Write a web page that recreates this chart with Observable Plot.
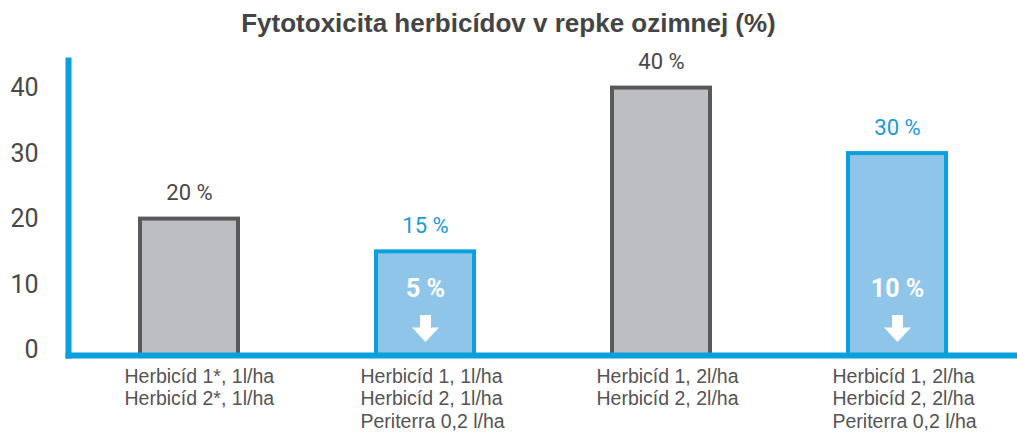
<!DOCTYPE html>
<html>
<head>
<meta charset="utf-8">
<script src="https://cdn.jsdelivr.net/npm/d3@7"></script>
<script src="https://cdn.jsdelivr.net/npm/@observablehq/plot@0.6"></script>
<style>
  html, body { margin: 0; padding: 0; background: #fff; }
  #title { height: 44px; box-sizing: border-box; padding-top: 10px; text-align: center;
           font: bold 26px "Liberation Sans", Arial, sans-serif; line-height: 1; color: #444446; }
  #chart svg { display: block; }
</style>
</head>
<body>
<div id="title">Fytotoxicita herbicídov v repke ozimnej (%)</div>
<div id="chart"></div>
<script>
// ---- data ----
const categories = [
  "Herbicíd 1*, 1l/ha\nHerbicíd 2*, 1l/ha",
  "Herbicíd 1, 1l/ha\nHerbicíd 2, 1l/ha\nPeriterra 0,2 l/ha",
  "Herbicíd 1, 2l/ha\nHerbicíd 2, 2l/ha",
  "Herbicíd 1, 2l/ha\nHerbicíd 2, 2l/ha\nPeriterra 0,2 l/ha"
];
const values = [20, 15, 40, 30];
const reductions = [null, 5, null, 10];
const withPeriterra = [false, true, false, true];
const yTicks = [0, 10, 20, 30, 40];

const data = categories.map((c, i) => ({
  label: c, value: values[i], reduction: reductions[i], periterra: withPeriterra[i]
}));

const BLUE = "#0aa0dc", BLUE_FILL = "#90c5ea", GRAY_FILL = "#bdbec1", GRAY_STROKE = "#58595b";
const TEXT = "#48484a", BLUE_TEXT = "#1a9bd7";

const arrowDown = {
  draw(ctx, size) {
    const r = Math.sqrt(size / Math.PI);
    const sw = 0.41 * r, neck = -0.08 * r;
    ctx.moveTo(-sw, -r); ctx.lineTo(sw, -r); ctx.lineTo(sw, neck); ctx.lineTo(r, neck);
    ctx.lineTo(0, r); ctx.lineTo(-r, neck); ctx.lineTo(-sw, neck); ctx.closePath();
  }
};

const chart = Plot.plot({
  width: 1017,
  height: 388,
  marginLeft: 68,
  marginRight: 0,
  marginTop: 16,
  marginBottom: 77,
  style: { fontFamily: "Roboto, sans-serif", background: "#fff" },
  x: { type: "band", domain: categories, range: [68, 1017], paddingInner: 0.585, paddingOuter: 0.302, axis: null },
  y: { domain: [0, 40], range: [305.6, 43.6], axis: null, label: null },
  marks: [
    Plot.barY(data, {
      x: "label", y: "value",
      fill: d => d.periterra ? BLUE_FILL : GRAY_FILL,
      stroke: d => d.periterra ? BLUE : GRAY_STROKE,
      strokeWidth: 4, insetBottom: -6
    }),
    Plot.axisY({ ticks: yTicks, tickSize: 0, tickPadding: 30, fontSize: 25, fill: TEXT, label: null, tickFormat: d => d }),
    Plot.frame({ anchor: "left", stroke: BLUE, strokeWidth: 6 }),
    Plot.frame({ anchor: "bottom", stroke: BLUE, strokeWidth: 6 }),
    Plot.text(data, {
      x: "label", y: "value", text: d => `${d.value} %`,
      fill: d => d.periterra ? BLUE_TEXT : TEXT,
      fontSize: 22, lineAnchor: "middle", dy: -26
    }),
    Plot.text(data.filter(d => d.reduction != null), {
      x: "label", text: d => `${d.reduction} %`, frameAnchor: "bottom",
      fill: "white", fontSize: 25, fontWeight: "bold", lineAnchor: "middle", dy: -67
    }),
    Plot.dot(data.filter(d => d.reduction != null), {
      x: "label", frameAnchor: "bottom", dy: -27, r: 13.5,
      symbol: arrowDown, fill: "white", stroke: "none"
    }),
    Plot.text(data, {
      x: "label", text: "label", frameAnchor: "bottom", textAnchor: "start",
      lineAnchor: "top", lineHeight: 1.165, dx: -65, dy: 11,
      fontSize: 19.5, fontFamily: "'Liberation Sans', Arial, sans-serif", fill: "#545456"
    })
  ]
});
document.getElementById("chart").appendChild(chart);
</script>
</body>
</html>
